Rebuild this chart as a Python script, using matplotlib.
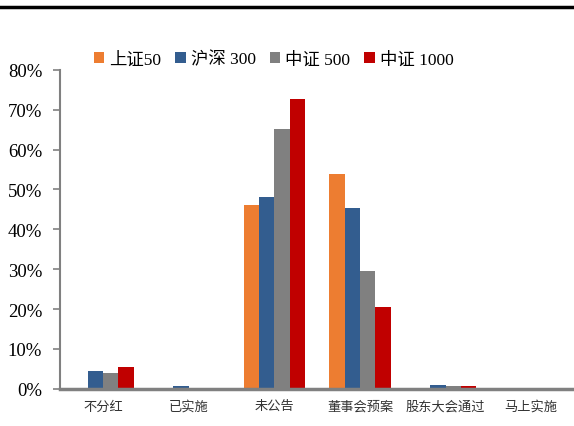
import matplotlib.pyplot as plt
import numpy as np
from matplotlib.lines import Line2D

plt.rcParams['font.family'] = ['Liberation Serif', 'Noto Sans CJK SC']

categories = ['不分红', '已实施', '未公告', '董事会预案', '股东大会通过', '马上实施']
series = ['上证50', '沪深 300', '中证 500', '中证 1000']
sz50 = [0.0, 0.0, 46.0, 54.0, 0.0, 0.0]
hs300 = [4.6, 0.6, 48.0, 45.4, 0.9, 0.3]
zz500 = [4.0, 0.3, 65.2, 29.5, 0.7, 0.0]
zz1000 = [5.6, 0.0, 72.7, 20.5, 0.6, 0.0]
colors = ['#ED7D31', '#335D8F', '#808080', '#C00000']

fig = plt.figure(figsize=(5.74, 4.27), dpi=100)
ax = fig.add_axes([0.105, 0.087, 0.895, 0.747])

x = np.arange(len(categories))
w = 0.18
for i, (vals, c, lab) in enumerate(zip([sz50, hs300, zz500, zz1000], colors, series)):
    ax.bar(x + (i - 1.5) * w, np.array(vals) / 100, w, color=c, label=lab)

ax.set_xlim(-0.5, len(categories) - 0.5)
ax.set_ylim(0, 0.8)
ax.set_yticks(np.arange(0, 0.81, 0.1))
ax.set_yticklabels([f'{int(round(v * 100))}%' for v in np.arange(0, 0.81, 0.1)], fontsize=13.5)
ax.set_xticks(x)
ax.set_xticklabels(categories, fontsize=9.5, color='#333333')
ax.tick_params(axis='x', length=0, pad=8)
ax.tick_params(axis='y', length=5, color='#808080', width=1.2, pad=8)

for s in ['top', 'right']:
    ax.spines[s].set_visible(False)
ax.spines['left'].set_color('#808080')
ax.spines['left'].set_linewidth(1.5)
ax.spines['bottom'].set_color('#808080')
ax.spines['bottom'].set_linewidth(2.5)

fig.legend(*ax.get_legend_handles_labels(), loc='center', bbox_to_anchor=(0.477, 0.859),
           ncol=4, frameon=False, fontsize=12.5, handlelength=0.6, handleheight=0.6,
           handletextpad=0.3, columnspacing=0.8)

fig.add_artist(Line2D([0, 1], [0.981, 0.981], transform=fig.transFigure,
                      color='black', linewidth=2.5))

fig.savefig('out.png', dpi=100)
